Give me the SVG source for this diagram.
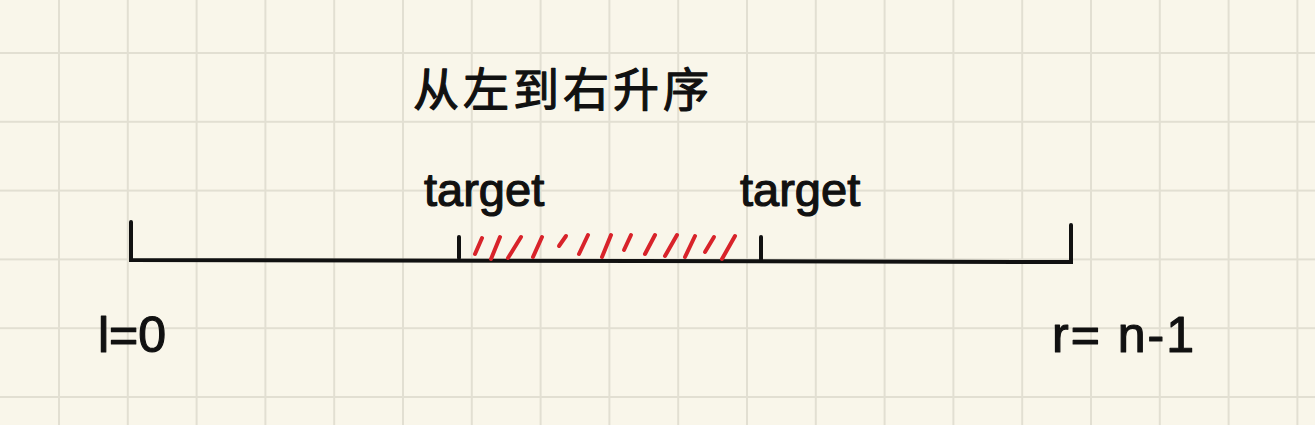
<svg xmlns="http://www.w3.org/2000/svg" width="1315" height="425" viewBox="0 0 1315 425">
  <style>
    .ink { fill: #111; stroke: #111; stroke-width: 1.2; stroke-linejoin: round; font-family: "Liberation Sans", "Noto Sans CJK SC", sans-serif; }
    .line { stroke: #111; stroke-width: 4; stroke-linecap: round; fill: none; }
    .hatch { stroke: #d8232a; stroke-width: 4; stroke-linecap: round; fill: none; }
  </style>
  <defs>
    <pattern id="grid" patternUnits="userSpaceOnUse" x="58" y="52" width="68.8" height="68.8">
      <rect x="0" y="0" width="2" height="68.8" fill="#e2dfd2"/>
      <rect x="0" y="0" width="68.8" height="2" fill="#e2dfd2"/>
    </pattern>
  </defs>
  <rect width="1315" height="425" fill="#f9f6ea"/>
  <rect width="1315" height="425" fill="url(#grid)"/>

  <g id="title">
    <text class="ink" x="413" y="106" font-size="46" letter-spacing="4" stroke-width="1.8">从左到右升序</text>
  </g>

  <g id="connectors">
    <path class="line" d="M131 222 L131 260 L1071 262 L1071 225"/>
    <path class="line" d="M459 237 L459 258"/>
    <path class="line" d="M761 237 L761 260"/>
  </g>

  <g id="hatch">
    <path class="hatch" d="M475 254 L482 238"/>
    <path class="hatch" d="M491 259 L500 237"/>
    <path class="hatch" d="M508 258 L521 237"/>
    <path class="hatch" d="M533 257 L542 237"/>
    <path class="hatch" d="M559 246 L566 236"/>
    <path class="hatch" d="M579 254 L588 235"/>
    <path class="hatch" d="M602 257 L611 235"/>
    <path class="hatch" d="M624 250 L631 235"/>
    <path class="hatch" d="M645 254 L655 235"/>
    <path class="hatch" d="M665 256 L677 235"/>
    <path class="hatch" d="M685 257 L695 236"/>
    <path class="hatch" d="M705 252 L714 237"/>
    <path class="hatch" d="M722 259 L735 236"/>
  </g>

  <g id="target-left">
    <text class="ink" x="424" y="206" font-size="47">target</text>
  </g>
  <g id="target-right">
    <text class="ink" x="740" y="206" font-size="47">target</text>
  </g>
  <g id="label-l">
    <text class="ink" x="98" y="352" font-size="50">l=0</text>
  </g>
  <g id="label-r">
    <text class="ink" x="1052" y="352" font-size="50" letter-spacing="2">r= n-1</text>
  </g>
</svg>
